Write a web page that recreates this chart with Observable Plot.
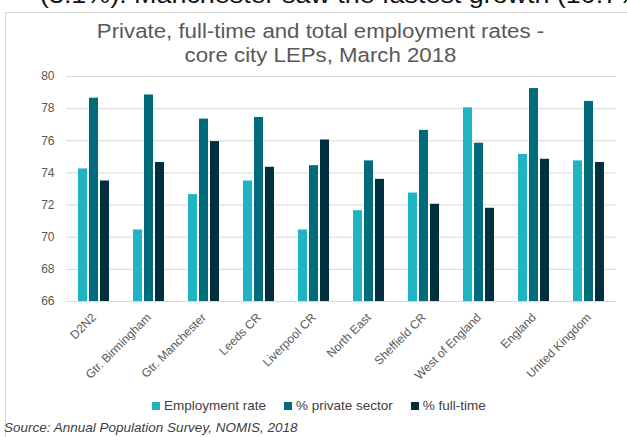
<!DOCTYPE html>
<html>
<head>
<meta charset="utf-8">
<script src="https://cdn.jsdelivr.net/npm/d3@7"></script>
<script src="https://cdn.jsdelivr.net/npm/@observablehq/plot@0.6"></script>
<style>
  html, body { margin: 0; padding: 0; background: #fff; }
  body { width: 627px; height: 437px; overflow: hidden; position: relative; font-family: "Liberation Sans", Arial, sans-serif; }
  #toptext { position: absolute; left: 40px; top: -19px; font-size: 24px; line-height: 28px; color: #111; white-space: nowrap; transform: scaleX(1.12); transform-origin: left top; }
  #box { position: absolute; left: 5px; top: 12px; width: 640px; height: 440px; border: 1px solid #d9d9d9; box-sizing: border-box; }
  #title { position: absolute; left: 0; width: 641px; top: 19px; text-align: center; font-size: 19.5px; line-height: 24px; color: #595959; transform: scaleX(1.14); transform-origin: 320.5px 0; }
  #chart { position: absolute; left: 0; top: 0; }
  #legend { position: absolute; top: 398px; left: 152px; display: flex; gap: 18px; font-size: 13.5px; color: #404040; }
  #legend span.item { display: flex; align-items: center; }
  #legend i { display: inline-block; width: 8px; height: 8px; margin-right: 4px; }
  #source { position: absolute; left: 4px; top: 420px; font-size: 13.5px; font-style: italic; color: #404040; }
</style>
</head>
<body>
<div id="toptext">(3.1%). Manchester saw the fastest growth (10.7%</div>
<div id="box"></div>
<div id="title">Private, full-time and total employment rates -<br>core city LEPs, March 2018</div>
<div id="chart"></div>
<div id="legend"></div>
<div id="source">Source: Annual Population Survey, NOMIS, 2018</div>
<script>
const categories = ["D2N2", "Gtr. Birmingham", "Gtr. Manchester", "Leeds CR", "Liverpool CR", "North East", "Sheffield CR", "West of England", "England", "United Kingdom"];
const seriesNames = ["Employment rate", "% private sector", "% full-time"];
const employmentRate = [74.25, 70.45, 72.65, 73.5, 70.45, 71.65, 72.75, 78.05, 75.15, 74.75];
const privateSector = [78.65, 78.85, 77.35, 77.45, 74.45, 74.75, 76.65, 75.85, 79.25, 78.45];
const fullTime = [73.5, 74.65, 75.95, 74.35, 76.05, 73.6, 72.05, 71.8, 74.85, 74.65];
const yTicks = [66, 68, 70, 72, 74, 76, 78, 80];
const colors = ["#1fb4c4", "#006b7b", "#002f3d"];

const valuesBySeries = [employmentRate, privateSector, fullTime];
const data = [];
categories.forEach((c, i) => {
  seriesNames.forEach((s, j) => data.push({category: c, series: s, value: valuesBySeries[j][i]}));
});

const chart = Plot.plot({
  width: 627,
  height: 437,
  marginTop: 76,
  marginBottom: 136,
  marginLeft: 62,
  marginRight: 8,
  style: {fontFamily: "'Liberation Sans', Arial, sans-serif", fontSize: "12px", color: "#595959", background: "transparent"},
  fx: {domain: categories, padding: 0, label: null, tickSize: 0, tickRotate: -45, tickPadding: 14},
  x: {domain: seriesNames, paddingInner: 0.2, paddingOuter: 1.07, axis: null},
  y: {domain: [66, 80], ticks: yTicks, label: null, tickSize: 0, tickPadding: 12},
  color: {domain: seriesNames, range: colors},
  marks: [
    Plot.ruleY(yTicks, {stroke: "#d9d9d9", strokeWidth: 1}),
    Plot.barY(data, {fx: "category", x: "series", y1: 66, y2: "value", fill: "series"})
  ]
});
document.getElementById("chart").appendChild(chart);

const legend = document.getElementById("legend");
seriesNames.forEach((s, j) => {
  const item = document.createElement("span");
  item.className = "item";
  item.innerHTML = `<i style="background:${colors[j]}"></i>${s}`;
  legend.appendChild(item);
});
</script>
</body>
</html>
